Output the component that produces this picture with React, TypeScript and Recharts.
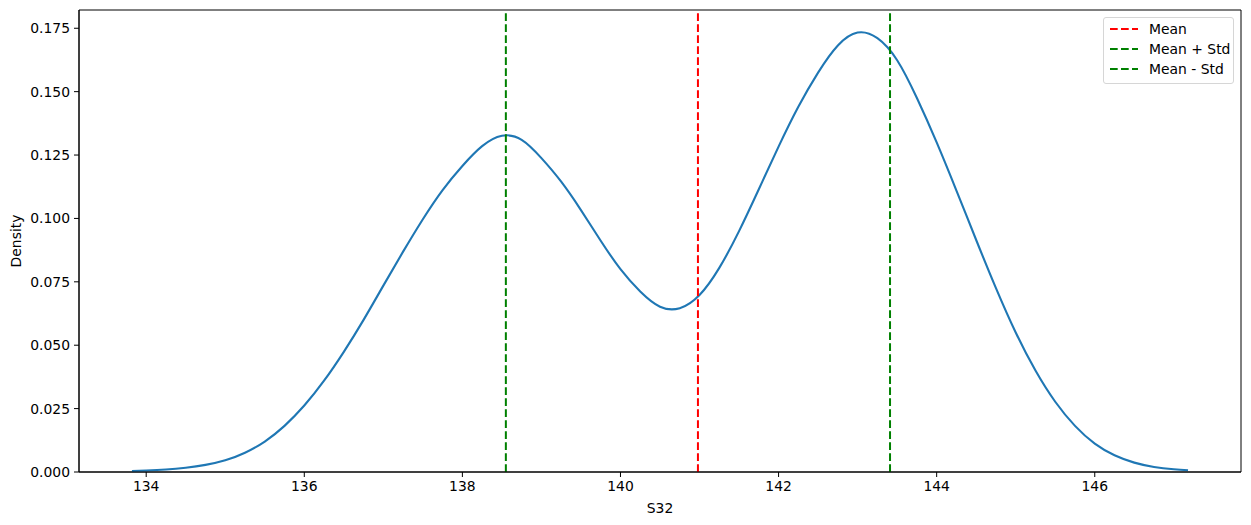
import {
    LineChart,
    Line,
    XAxis,
    YAxis,
    ReferenceLine,
    ReferenceArea,
} from 'recharts';

// KDE of S32
const xs = [
    133.82, 134.0, 134.25, 134.5, 134.75, 135.0, 135.25, 135.5, 135.75, 136.0,
    136.25, 136.5, 136.75, 137.0, 137.25, 137.5, 137.75, 138.0, 138.25, 138.5,
    138.75, 139.0, 139.25, 139.5, 139.75, 140.0, 140.25, 140.5, 140.75,
    141.0, 141.25, 141.5, 141.75, 142.0, 142.25, 142.5, 142.75, 143.0, 143.25,
    143.5, 143.75, 144.0, 144.25, 144.5, 144.75, 145.0, 145.25, 145.5, 145.75,
    146.0, 146.25, 146.5, 146.75, 147.0, 147.18,
];
const density = [
    0.0004, 0.0006, 0.001, 0.0017, 0.0028, 0.0046, 0.0076, 0.012, 0.0182, 0.0262,
    0.036, 0.0474, 0.06, 0.0735, 0.0869, 0.0997, 0.1112, 0.1207, 0.1285, 0.1326,
    0.131, 0.1238, 0.1145, 0.1033, 0.0912, 0.08, 0.0712, 0.0652, 0.0646,
    0.0698, 0.0805, 0.095, 0.1115, 0.1283, 0.144, 0.1575, 0.1682, 0.1733, 0.1711,
    0.1624, 0.1475, 0.13, 0.111, 0.0915, 0.0725, 0.055, 0.04, 0.0277, 0.0182,
    0.0112, 0.0066, 0.0037, 0.002, 0.0011, 0.0007,
];

const xTicks = [134, 136, 138, 140, 142, 144, 146];
const yTicks = [0, 0.025, 0.05, 0.075, 0.1, 0.125, 0.15, 0.175];

const mean = 140.98;
const std = 2.43;

const legendItems = [
    { label: 'Mean', color: '#ff0000' },
    { label: 'Mean + Std', color: '#008000' },
    { label: 'Mean - Std', color: '#008000' },
];

const xDomain: [number, number] = [133.15, 147.85];
const yDomain: [number, number] = [0, 0.1822];

const font = '"DejaVu Sans", sans-serif';
const dash = '7.7 3.3';

export default function App() {
    const chartData = xs.map((x, i) => ({ x, y: density[i] }));

    return (
        <div style={{ position: 'absolute', left: 0, top: 0, width: 1251, height: 525, background: '#fff', fontFamily: font }}>
            <LineChart
                width={1251}
                height={525}
                data={chartData}
                margin={{ top: 10, right: 10, left: 19, bottom: 0 }}
            >
                <XAxis
                    dataKey="x"
                    type="number"
                    domain={xDomain}
                    ticks={xTicks}
                    allowDataOverflow
                    height={53}
                    tickSize={5}
                    tickMargin={4}
                    stroke="#000"
                    tick={{ fill: '#000', fontSize: 13.9, fontFamily: font }}
                    label={{ value: 'S32', position: 'insideBottom', offset: 12, fill: '#000', fontSize: 13.9, fontFamily: font }}
                />
                <YAxis
                    type="number"
                    domain={yDomain}
                    ticks={yTicks}
                    allowDataOverflow
                    width={60}
                    tickSize={5}
                    tickMargin={4}
                    stroke="#000"
                    tickFormatter={(v: number) => v.toFixed(3)}
                    tick={{ fill: '#000', fontSize: 13.9, fontFamily: font }}
                    label={{
                        content: (props: any) => {
                            const vb = props.viewBox || { x: 19, y: 10, height: 462 };
                            const cx = vb.x - 3;
                            const cy = vb.y + vb.height / 2;
                            return (
                                <text
                                    x={cx}
                                    y={cy}
                                    transform={`rotate(-90 ${cx} ${cy})`}
                                    textAnchor="middle"
                                    dominantBaseline="central"
                                    fill="#000"
                                    fontSize={13.9}
                                    fontFamily={font}
                                >
                                    Density
                                </text>
                            );
                        },
                    }}
                />
                <ReferenceArea
                    x1={xDomain[0]}
                    x2={xDomain[1]}
                    y1={yDomain[0]}
                    y2={yDomain[1]}
                    fill="none"
                    stroke="#000"
                    strokeWidth={1}
                    fillOpacity={0}
                />
                <Line
                    type="natural"
                    dataKey="y"
                    stroke="#1f77b4"
                    strokeWidth={2.1}
                    dot={false}
                    activeDot={false}
                    isAnimationActive={false}
                />
                <ReferenceLine x={mean} stroke="#ff0000" strokeWidth={2} strokeDasharray={dash} />
                <ReferenceLine x={mean + std} stroke="#008000" strokeWidth={2} strokeDasharray={dash} />
                <ReferenceLine x={mean - std} stroke="#008000" strokeWidth={2} strokeDasharray={dash} />
            </LineChart>

            <div
                style={{
                    position: 'absolute',
                    left: 1103,
                    top: 17,
                    width: 131,
                    height: 67,
                    boxSizing: 'border-box',
                    border: '1px solid #d6d6d6',
                    borderRadius: 3,
                    background: 'rgba(255,255,255,0.8)',
                    padding: '1px 0 0 6px',
                }}
            >
                {legendItems.map((item) => (
                    <div key={item.label} style={{ display: 'flex', alignItems: 'center', height: 20, fontSize: 13.9, color: '#000' }}>
                        <svg width={28} height={4} style={{ marginRight: 11 }}>
                            <line x1={0} y1={2} x2={28} y2={2} stroke={item.color} strokeWidth={2} strokeDasharray={dash} />
                        </svg>
                        <span>{item.label}</span>
                    </div>
                ))}
            </div>
        </div>
    );
}
